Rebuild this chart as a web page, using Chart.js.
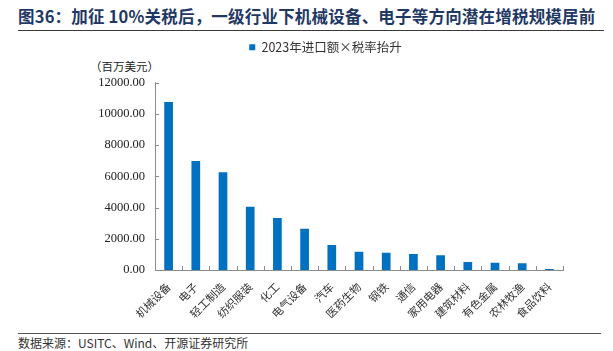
<!DOCTYPE html>
<html>
<head>
<meta charset="utf-8">
<script src="https://cdn.jsdelivr.net/npm/chart.js@4.4.1/dist/chart.umd.min.js"></script>
<style>
  body { margin: 0; width: 613px; height: 351px; background: #fff; position: relative; overflow: hidden;
         font-family: "Noto Sans CJK SC", sans-serif; }
  #title { position: absolute; left: 18px; top: 4px; font-size: 16.5px; font-weight: bold; color: #1f3864;
           white-space: nowrap; letter-spacing: 0.2px; }
  #topline { position: absolute; left: 18px; top: 30px; width: 586px; height: 0; border-top: 1.5px solid #3a3a3a; }
  #unit { position: absolute; left: 90px; top: 58px; font-size: 11.5px; color: #222; }
  #wrap { position: absolute; left: 88px; top: 19px; width: 525px; height: 314px; }
  #botline { position: absolute; left: 18px; top: 333px; width: 583px; height: 0; border-top: 1px solid #555; }
  #source { position: absolute; left: 18px; top: 334px; font-size: 12px; color: #333; white-space: nowrap; }
</style>
</head>
<body>
<div id="title">图36：加征 10%关税后，一级行业下机械设备、电子等方向潜在增税规模居前</div>
<div id="topline"></div>
<div id="unit">（百万美元）</div>
<div id="wrap"><canvas id="canvas"></canvas></div>
<div id="botline"></div>
<div id="source">数据来源：USITC、Wind、开源证券研究所</div>
<script>
  var industries = ["机械设备", "电子", "轻工制造", "纺织服装", "化工", "电气设备", "汽车", "医药生物",
                    "钢铁", "通信", "家用电器", "建筑材料", "有色金属", "农林牧渔", "食品饮料"];
  var taxIncrease = [10750, 6980, 6260, 4050, 3330, 2640, 1600, 1170, 1100, 1020, 950, 520, 460, 440, 60];
  var seriesName = "2023年进口额×税率抬升";
  var yMax = 12000, yStep = 2000;

  var axisColor = "#8c8c8c";

  // leave room under the legend for the unit label
  var legendGap = {
    id: "legendGap",
    afterInit: function(chart) {
      var lg = chart.legend;
      if (!lg) return;
      var fit = lg.fit;
      lg.fit = function() { fit.call(this); this.height += 19; };
    }
  };

  // short tick marks pointing into the plot area, like the original
  var innerTicks = {
    id: "innerTicks",
    afterDatasetsDraw: function(chart) {
      var ctx = chart.ctx, x = chart.scales.x, y = chart.scales.y;
      ctx.save();
      ctx.strokeStyle = axisColor;
      ctx.lineWidth = 1;
      ctx.beginPath();
      var half = (x.getPixelForValue(1) - x.getPixelForValue(0)) / 2;
      for (var i = 0; i <= industries.length; i++) {
        var px = Math.round(x.getPixelForValue(i) - half) + 0.5;
        ctx.moveTo(px, y.bottom);
        ctx.lineTo(px, y.bottom - 4);
      }
      for (var v = 0; v <= yMax; v += yStep) {
        var py = Math.round(y.getPixelForValue(v)) + 0.5;
        ctx.moveTo(x.left, py);
        ctx.lineTo(x.left + 4, py);
      }
      ctx.stroke();
      ctx.restore();
    }
  };

  window.onload = function() {
    window.myBar = new Chart(document.getElementById("canvas"), {
      type: 'bar',
      data: {
        labels: industries,
        datasets: [{
          label: seriesName,
          data: taxIncrease,
          backgroundColor: "#0070c0",
          barPercentage: 0.32,
          categoryPercentage: 1.0
        }]
      },
      options: {
        responsive: true,
        maintainAspectRatio: false,
        animation: false,
        layout: { padding: { left: 0, right: 50, top: 0, bottom: 0 } },
        plugins: {
          legend: {
            display: true,
            labels: {
              boxWidth: 6, boxHeight: 6, padding: 22,
              color: "#333",
              font: { family: "'Noto Sans CJK SC'", size: 12.5 }
            }
          },
          tooltip: { enabled: false }
        },
        scales: {
          x: {
            grid: { display: false },
            border: { display: true, color: axisColor, width: 1 },
            ticks: {
              maxRotation: 45, minRotation: 45, autoSkip: false,
              color: "#333", padding: 2,
              font: { family: "'Noto Sans CJK SC'", size: 11 }
            },
            afterFit: function(scale) { scale.height = 63; }
          },
          y: {
            min: 0, max: yMax,
            grid: { display: false },
            border: { display: true, color: axisColor, width: 1 },
            ticks: {
              stepSize: yStep, padding: 2, color: "#222",
              font: { family: "'Liberation Serif'", size: 12.5 },
              callback: function(v) { return v.toFixed(2); }
            },
            afterFit: function(scale) { scale.width = 67; }
          }
        }
      },
      plugins: [legendGap, innerTicks]
    });
  };
</script>
</body>
</html>
